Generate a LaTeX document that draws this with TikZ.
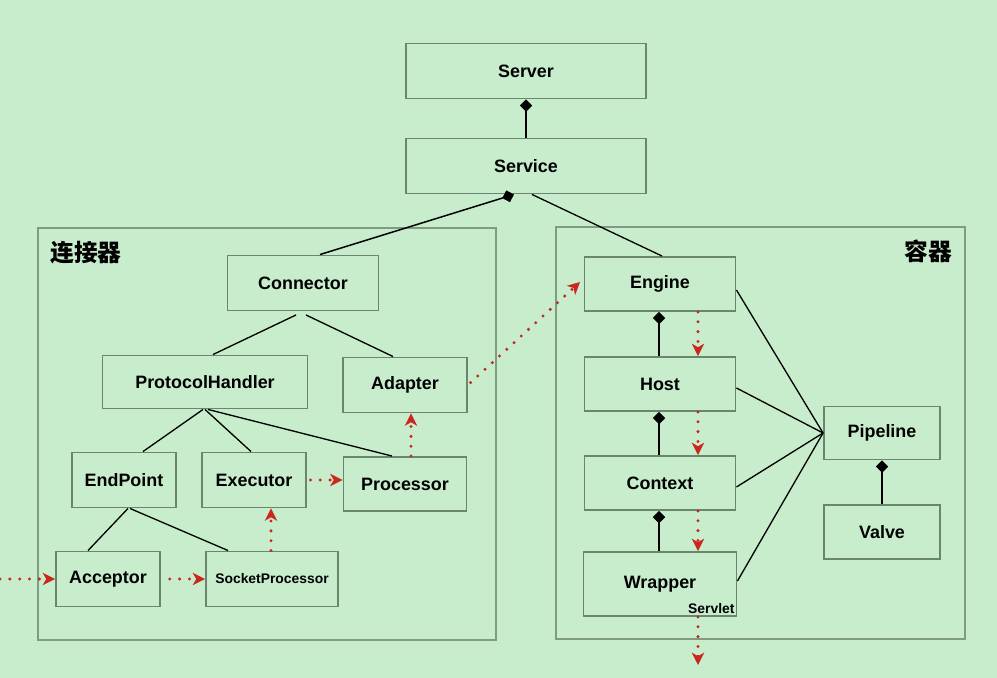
\documentclass[tikz,border=0pt]{standalone}
\usepackage{fontspec}
\setmainfont{Liberation Sans}
\newfontfamily\cjk{Noto Sans CJK SC}
\usetikzlibrary{arrows.meta}
\definecolor{bgleaf}{HTML}{C8EDCD}
\definecolor{boxline}{HTML}{6A866E}
\definecolor{frameline}{HTML}{7F9C83}
\definecolor{flow}{HTML}{C8281F}

\tikzset{
    comp/.style={draw=boxline, line width=1.1pt, inner sep=0pt, minimum height=1.1cm,
        font=\bfseries\fontsize{10.2}{12}\selectfont},
    has/.style={{Diamond[length=7pt,width=7pt]}-, black, line width=.85pt},
    link/.style={black, line width=.75pt},
    call/.style={flow, line width=1.9pt, line cap=round, dash pattern=on 0pt off 5.6pt,
        -{Stealth[length=7pt,width=7pt,inset=2pt]}},
}

\begin{document}
\begin{tikzpicture}[x=0.02cm,y=-0.02cm]
    \fill[bgleaf] (0,0) rectangle (997,678);
    \useasboundingbox (0,0) rectangle (997,678);
    % frames
    \draw[frameline, line width=.7pt] (38,228) rectangle (496,640);
    \draw[frameline, line width=.7pt] (556,227) rectangle (965,639);
    \node (conlabel) at (86,253) {\cjk\bfseries\fontsize{13.5}{15}\selectfont 连接器};
    \node (ctnlabel) at (928,251) {\cjk\bfseries\fontsize{13.5}{15}\selectfont 容器};
    % components
    \node[comp, minimum width=4.8cm] (server) at (526,71) {Server};
    \node[comp, minimum width=4.8cm] (service) at (526,166) {Service};
    \node[comp, minimum width=3.02cm] (connector) at (303,283) {Connector};
    \node[comp, minimum width=4.1cm, minimum height=1.06cm] (handler) at (205,382) {ProtocolHandler};
    \node[comp, minimum width=2.48cm] (adapter) at (405,385) {Adapter};
    \node[comp, minimum width=2.08cm] (endpoint) at (124,480) {EndPoint};
    \node[comp, minimum width=2.08cm] (executor) at (254,480) {Executor};
    \node[comp, minimum width=2.46cm, minimum height=1.08cm] (processor) at (405,484) {Processor};
    \node[comp, minimum width=2.08cm] (acceptor) at (108,579) {Acceptor};
    \node[comp, minimum width=2.64cm, font=\bfseries\fontsize{7.9}{9}\selectfont] (socketproc) at (272,579) {SocketProcessor};
    \node[comp, minimum width=3.02cm, minimum height=1.08cm] (engine) at (660,284) {Engine};
    \node[comp, minimum width=3.02cm, minimum height=1.08cm] (host) at (660,384) {Host};
    \node[comp, minimum width=3.02cm, minimum height=1.08cm] (context) at (660,483) {Context};
    \node[comp, minimum width=3.06cm, minimum height=1.28cm] (wrapper) at (660,584) {Wrapper};
    \node[anchor=south east, inner sep=1.5pt, font=\bfseries\fontsize{7.9}{9}\selectfont] (servlet) at (wrapper.south east) {Servlet};
    \node[comp, minimum width=2.32cm, minimum height=1.06cm] (pipeline) at (882,433) {Pipeline};
    \node[comp, minimum width=2.32cm, minimum height=1.08cm] (valve) at (882,532) {Valve};
    % composition
    \draw[has] (server.south) -- (service.north);
    \draw[has] ([xshift=-0.24cm]service.south) -- ([xshift=0.34cm]connector.north);
    \draw[link] ([xshift=0.12cm]service.south) -- ([xshift=0.04cm]engine.north);
    \draw[has] ([xshift=-0.02cm]engine.south) -- ([xshift=-0.02cm]host.north);
    \draw[has] ([xshift=-0.02cm]host.south) -- ([xshift=-0.02cm]context.north);
    \draw[has] ([xshift=-0.02cm]context.south) -- ([xshift=-0.02cm]wrapper.north);
    \draw[has] (pipeline.south) -- (valve.north);
    % tree lines
    \draw[link] ([xshift=-0.14cm,yshift=-2pt]connector.south) -- ([xshift=0.16cm]handler.north);
    \draw[link] ([xshift=0.06cm,yshift=-2pt]connector.south) -- ([xshift=-0.24cm]adapter.north);
    \draw[link] ([xshift=-0.04cm]handler.south) -- ([xshift=0.38cm]endpoint.north);
    \draw[link] (handler.south) -- ([xshift=-0.06cm]executor.north);
    \draw[link] ([xshift=0.06cm]handler.south) -- ([xshift=-0.26cm]processor.north);
    \draw[link] ([xshift=0.08cm]endpoint.south) -- ([xshift=-0.4cm]acceptor.north);
    \draw[link] ([xshift=0.12cm]endpoint.south) -- ([xshift=-0.88cm]socketproc.north);
    \draw[link] ([yshift=-0.12cm]engine.east) -- (pipeline.west);
    \draw[link] ([yshift=-0.08cm]host.east) -- (pipeline.west);
    \draw[link] ([yshift=-0.08cm]context.east) -- (pipeline.west);
    \draw[link] ([yshift=0.06cm]wrapper.east) -- (pipeline.west);
    % request flow
    \coordinate (reqin) at (0,579);
    \coordinate (reqout) at (698,665);
    \draw[call] (reqin) -- (acceptor.west);
    \draw[call, shorten <=5pt] (acceptor.east) -- (socketproc.west);
    \draw[call] ([xshift=-0.02cm]socketproc.north) -- ([xshift=0.34cm]executor.south);
    \draw[call, shorten <=2pt] (executor.east) -- (executor.east -| processor.west);
    \draw[call] ([xshift=0.12cm]processor.north) -- ([xshift=0.12cm]adapter.south);
    \draw[call, shorten <=2pt] (adapter.east) -- ([yshift=0.04cm,xshift=-2pt]engine.west);
    \draw[call] ([xshift=0.76cm]engine.south) -- ([xshift=0.76cm]host.north);
    \draw[call] ([xshift=0.76cm]host.south) -- ([xshift=0.76cm]context.north);
    \draw[call] ([xshift=0.76cm]context.south) -- ([xshift=0.76cm]wrapper.north);
    \draw[call] ([xshift=0.76cm]wrapper.south) -- (reqout);
\end{tikzpicture}
\end{document}
